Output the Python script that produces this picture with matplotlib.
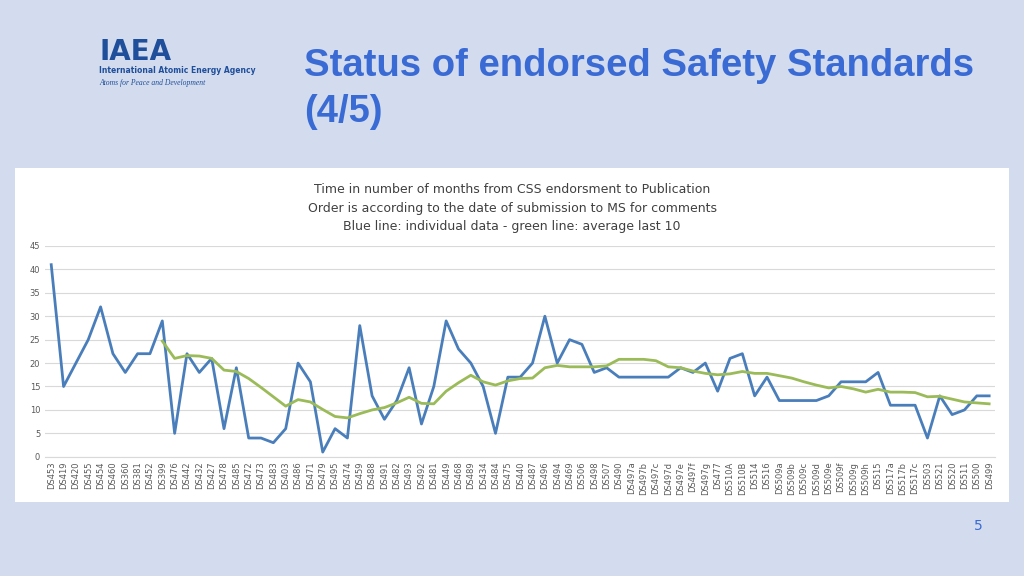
import matplotlib.pyplot as plt
import numpy as np

labels = ["DS453", "DS419", "DS420", "DS455", "DS454", "DS460", "DS360", "DS381", "DS452", "DS399",
          "DS476", "DS442", "DS432", "DS427", "DS478", "DS485", "DS472", "DS473", "DS483", "DS403",
          "DS486", "DS471", "DS479", "DS495", "DS474", "DS459", "DS488", "DS491", "DS482", "DS493",
          "DS492", "DS481", "DS449", "DS468", "DS489", "DS434", "DS484", "DS475", "DS440", "DS487",
          "DS496", "DS494", "DS469", "DS506", "DS498", "DS507", "DS490", "DS497a", "DS497b", "DS497c",
          "DS497d", "DS497e", "DS497f", "DS497g", "DS477", "DS510A", "DS510B", "DS514", "DS516",
          "DS509a", "DS509b", "DS509c", "DS509d", "DS509e", "DS509f", "DS509g", "DS509h", "DS515",
          "DS517a", "DS517b", "DS517c", "DS503", "DS521", "DS520", "DS511", "DS500", "DS499"]

individual = [41, 15, 20, 25, 32, 22, 18, 22, 22, 29, 5, 22, 18, 21, 6, 19, 4, 4, 3, 6,
              20, 16, 1, 6, 4, 28, 13, 8, 12, 19, 7, 15, 29, 23, 20, 15, 5, 17, 17, 20,
              30, 20, 25, 24, 18, 19, 17, 17, 17, 17, 17, 19, 18, 20, 14, 21, 22, 13, 17,
              12, 12, 12, 12, 13, 16, 16, 16, 18, 11, 11, 11, 4, 13, 9, 10, 13, 13]

# average of last 10, starts at DS399
average = [24.7, 21, 21.6, 21.5, 21, 18.5, 18.2, 16.7, 14.8, 12.8,
           10.8, 12.2, 11.7, 10.1, 8.6, 8.3, 9.2, 10, 10.5, 11.5,
           12.7, 11.4, 11.3, 14, 15.8, 17.4, 16, 15.3, 16.2, 16.7,
           16.8, 19, 19.5, 19.2, 19.2, 19.2, 19.4,
           20.8, 20.8, 20.8, 20.5, 19.2, 19.0, 18.3, 17.8, 17.5, 17.7,
           18.2, 17.8, 17.8, 17.3, 16.8, 16.0, 15.3, 14.7, 15.0, 14.5,
           13.8, 14.4, 13.8, 13.8, 13.7, 12.8, 12.9, 12.3, 11.7, 11.5, 11.3]

fig = plt.figure(figsize=(10.24, 5.76), dpi=100)
fig.patch.set_facecolor("#d3dcee")

# slide header
fig.text(0.097, 0.895, "IAEA", fontsize=20, fontweight="bold", color="#1f4e9a")
fig.text(0.097, 0.885, "International Atomic Energy Agency", fontsize=5.5, fontweight="bold",
         color="#1f4e9a", va="top")
fig.text(0.097, 0.862, "Atoms for Peace and Development", fontsize=5.5, style="italic",
         color="#1f4e9a", va="top", family="Liberation Serif")
fig.text(0.297, 0.885, "Status of endorsed Safety Standards", fontsize=27.5, fontweight="bold",
         color="#3a6ad4", va="center", family="Liberation Sans")
fig.text(0.297, 0.805, "(4/5)", fontsize=27.5, fontweight="bold", color="#3a6ad4", va="center",
         family="Liberation Sans")
fig.text(0.955, 0.08, "5", fontsize=10, color="#3a6ad4", ha="center")

# white chart panel
panel = fig.add_axes([0.015, 0.128, 0.97, 0.58])
panel.set_facecolor("white")
panel.set_xticks([])
panel.set_yticks([])
for s in panel.spines.values():
    s.set_visible(False)
panel.text(0.5, 0.955, "Time in number of months from CSS endorsment to Publication\n"
           "Order is according to the date of submission to MS for comments\n"
           "Blue line: individual data - green line: average last 10",
           ha="center", va="top", fontsize=9, color="#404040", linespacing=1.55,
           transform=panel.transAxes)

ax = fig.add_axes([0.044, 0.207, 0.928, 0.366])
ax.set_facecolor("none")
x = np.arange(len(labels))
ax.plot(x, individual, color="#4a7ebb", lw=2)
ax.plot(x[9:], average, color="#9bbb59", lw=2)
ax.set_ylim(0, 45)
ax.set_yticks(range(0, 46, 5))
ax.set_xlim(-0.5, len(labels) - 0.5)
ax.set_xticks(x)
ax.set_xticklabels(labels, rotation=90, fontsize=6, color="#595959")
ax.tick_params(axis="y", labelsize=6, labelcolor="#595959", length=0)
ax.tick_params(axis="x", length=0)
ax.grid(axis="y", color="#d9d9d9", lw=0.8)
ax.set_axisbelow(True)
for s in ["top", "right", "left"]:
    ax.spines[s].set_visible(False)
ax.spines["bottom"].set_color("#d9d9d9")

fig.savefig("out.png", dpi=100, facecolor=fig.get_facecolor())
